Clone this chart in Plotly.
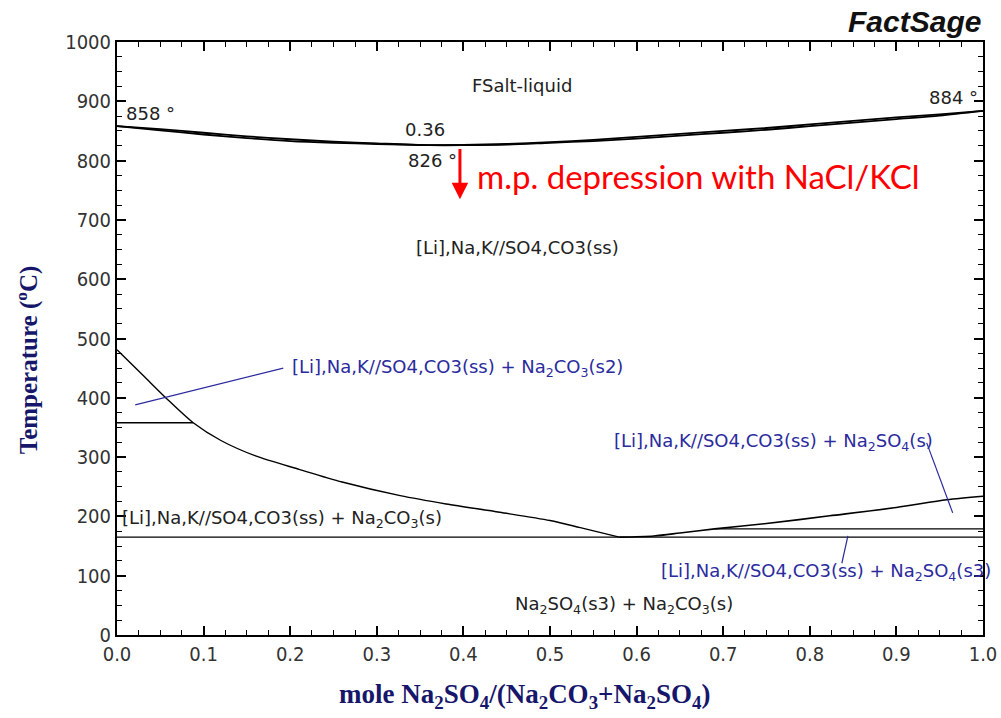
import plotly.graph_objects as go

# ---------------- data ----------------
liq_x = [0.0, 0.05, 0.1, 0.15, 0.2, 0.25, 0.3, 0.36, 0.4, 0.45, 0.5, 0.55, 0.6, 0.65, 0.7, 0.75, 0.8, 0.85, 0.9, 0.95, 1.0]
liq_T = [858, 853, 847, 841, 836, 832, 829, 826, 826.5, 828, 831, 835, 840, 845, 850, 855, 861, 867, 873, 878, 884]
sol_T = [858, 851, 844, 838, 833, 830, 828, 826, 826, 827, 830, 833, 837, 842, 847, 852, 858, 864, 870, 876, 884]

co3_x = [0.0, 0.03, 0.06, 0.088, 0.12, 0.16, 0.211, 0.26, 0.327, 0.38, 0.442, 0.5, 0.535, 0.58]
co3_T = [481, 438, 395, 358, 328, 302, 279, 258, 235, 221, 207, 193, 181, 165]

so4_x = [0.58, 0.62, 0.65, 0.69, 0.75, 0.823, 0.9, 0.958, 1.0]
so4_T = [165, 167, 172, 179, 188, 201, 215, 228, 234]

eut_x = [0.0, 1.0]
eut_T = [165, 165]
trans_x = [0.69, 1.0]
trans_T = [179, 179]
per_x = [0.0, 0.088]
per_T = [358, 358]

lead1_x = [0.021, 0.192]
lead1_T = [388, 450]
lead2_x = [0.935, 0.965]
lead2_T = [324, 206]
lead3_x = [0.844, 0.837]
lead3_T = [167, 121]

x_ticks = [0.0, 0.1, 0.2, 0.3, 0.4, 0.5, 0.6, 0.7, 0.8, 0.9, 1.0]
y_ticks = [0, 100, 200, 300, 400, 500, 600, 700, 800, 900, 1000]

BLUE = "#2b2b9e"
NAVY = "#16166b"
LBL = dict(family="DejaVu Sans, Verdana, sans-serif", size=18, color="#222222")
LBLB = dict(family="DejaVu Sans, Verdana, sans-serif", size=18, color=BLUE)

fig = go.Figure()

def line(x, y, color="black", width=1.4, shape="linear"):
    fig.add_trace(go.Scatter(x=x, y=y, mode="lines",
                             line=dict(color=color, width=width, shape=shape, smoothing=0.8),
                             hoverinfo="skip", showlegend=False))

line(liq_x, liq_T, width=1.8, shape="spline")
line(liq_x, sol_T, width=1.8, shape="spline")
line(co3_x, co3_T, shape="spline")
line(so4_x, so4_T, width=1.6, shape="spline")
line(eut_x, eut_T)
line(trans_x, trans_T)
line(per_x, per_T)
line(lead1_x, lead1_T, color=BLUE, width=1.2)
line(lead2_x, lead2_T, color=BLUE, width=1.2)
line(lead3_x, lead3_T, color=BLUE, width=1.2)

ann = []
def text(x, y, t, font, xanchor="center", yanchor="middle", xref="x", yref="y"):
    ann.append(dict(x=x, y=y, text=t, showarrow=False, font=font, xanchor=xanchor,
                    yanchor=yanchor, xref=xref, yref=yref))

text(0.468, 927, "FSalt-liquid", LBL)
text(0.008, 880, "858 °", LBL, xanchor="left")
text(0.997, 907, "884 °", LBL, xanchor="right")
text(0.356, 852, "0.36", LBL)
text(0.364, 801, "826 °", LBL)
text(0.413, 774, "m.p. depression with NaCl/KCl",
     dict(family="Lato, Open Sans, sans-serif", size=33, color="#ff0000"), xanchor="left")
text(0.462, 653, "[Li],Na,K//SO4,CO3(ss)", LBL)
text(0.2, 450, "[Li],Na,K//SO4,CO3(ss) + Na<sub>2</sub>CO<sub>3</sub>(s2)", LBLB, xanchor="left")
text(0.003, 196, "[Li],Na,K//SO4,CO3(ss) + Na<sub>2</sub>CO<sub>3</sub>(s)", LBL, xanchor="left")
text(0.572, 325, "[Li],Na,K//SO4,CO3(ss) + Na<sub>2</sub>SO<sub>4</sub>(s)", LBLB, xanchor="left")
text(0.626, 106, "[Li],Na,K//SO4,CO3(ss) + Na<sub>2</sub>SO<sub>4</sub>(s3)", LBLB, xanchor="left")
text(0.585, 51, "Na<sub>2</sub>SO<sub>4</sub>(s3) + Na<sub>2</sub>CO<sub>3</sub>(s)", LBL)

# red arrow
ann.append(dict(x=0.396, y=735, ax=0.396, ay=822, xref="x", yref="y", axref="x", ayref="y",
                showarrow=True, arrowhead=2, arrowsize=1.1, arrowwidth=3, arrowcolor="#ff0000", text=""))

# FactSage logo
text(1.0, 1.003, "<b><i>FactSage</i></b>",
     dict(family="Liberation Sans, Arial, sans-serif", size=30, color="#111111"),
     xanchor="right", yanchor="bottom", xref="paper", yref="paper")

# axis titles
ann.append(dict(x=-0.104, y=0.465, xref="paper", yref="paper", showarrow=False, textangle=-90,
                xanchor="center", yanchor="middle",
                text="<b>Temperature (<sup>o</sup>C)</b>",
                font=dict(family="Liberation Serif, Times New Roman, serif", size=25, color=NAVY)))
ann.append(dict(x=0.47, y=-0.103, xref="paper", yref="paper", showarrow=False,
                xanchor="center", yanchor="middle",
                text="<b>mole Na<sub>2</sub>SO<sub>4</sub>/(Na<sub>2</sub>CO<sub>3</sub>+Na<sub>2</sub>SO<sub>4</sub>)</b>",
                font=dict(family="Liberation Serif, Times New Roman, serif", size=27, color=NAVY)))

tickfont = dict(family="DejaVu Sans Condensed, Liberation Sans Narrow, Arial Narrow, sans-serif", size=20, color="#333333")

fig.update_layout(
    width=1001, height=718,
    margin=dict(l=117, r=18, t=42, b=83, autoexpand=False),
    paper_bgcolor="white", plot_bgcolor="white",
    annotations=ann,
    xaxis=dict(range=[0, 1], tickvals=x_ticks, ticktext=[f"{v:.1f}" for v in x_ticks],
               ticks="inside", ticklen=9, tickwidth=1.5, tickcolor="black", automargin=False,
               minor=dict(dtick=0.025, ticks="inside", ticklen=5, tickwidth=1.2, tickcolor="black"),
               showline=True, linecolor="black", linewidth=2, mirror="ticks",
               showgrid=False, zeroline=False, tickfont=tickfont, fixedrange=True),
    yaxis=dict(range=[0, 1000], tickvals=y_ticks, ticktext=[str(v) for v in y_ticks],
               ticks="inside", ticklen=9, tickwidth=1.5, tickcolor="black", automargin=False,
               minor=dict(dtick=25, ticks="inside", ticklen=5, tickwidth=1.2, tickcolor="black"),
               showline=True, linecolor="black", linewidth=2, mirror="ticks",
               showgrid=False, zeroline=False, tickfont=tickfont, fixedrange=True),
)

# remove the default 8px page margin so the 1001x718 figure fills the window exactly
fig.write_html("out.html", config={"displayModeBar": False},
               post_script="document.body.style.margin='0';document.body.style.overflow='hidden';")
